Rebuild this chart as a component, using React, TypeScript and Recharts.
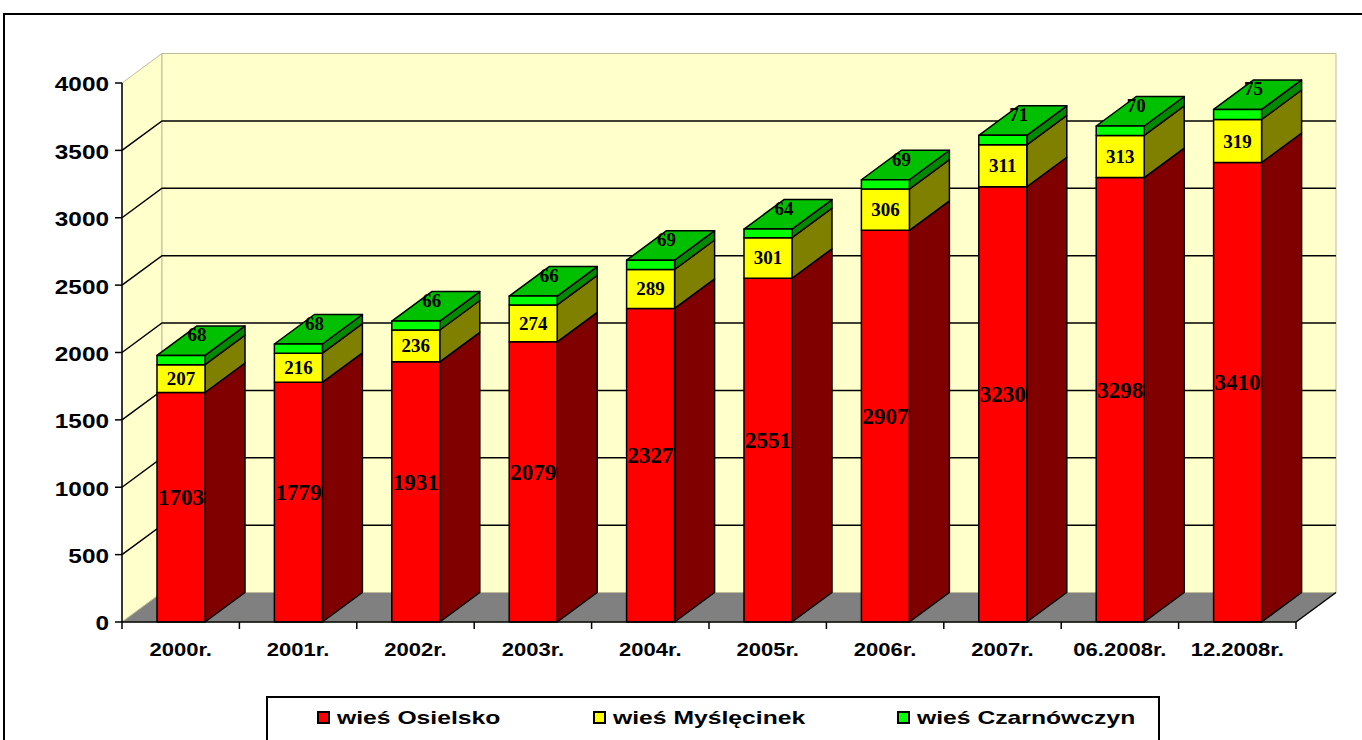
import React from 'react';
import { BarChart, Bar, XAxis, YAxis, CartesianGrid, LabelList } from 'recharts';

const CATEGORIES = ['2000r.', '2001r.', '2002r.', '2003r.', '2004r.', '2005r.', '2006r.', '2007r.', '06.2008r.', '12.2008r.'];
const OSIELSKO = [1703, 1779, 1931, 2079, 2327, 2551, 2907, 3230, 3298, 3410];
const MYSLECINEK = [207, 216, 236, 274, 289, 301, 306, 311, 313, 319];
const CZARNOWCZYN = [68, 68, 66, 66, 69, 64, 69, 71, 70, 75];
const Y_TICKS = [0, 500, 1000, 1500, 2000, 2500, 3000, 3500, 4000];

const SERIES = [
  { key: 'osielsko', name: 'wieś Osielsko', front: '#FF0000', side: '#800000' },
  { key: 'myslecinek', name: 'wieś Myślęcinek', front: '#FFFF00', side: '#808000' },
  { key: 'czarnowczyn', name: 'wieś Czarnówczyn', front: '#00FF00', side: '#008A00', top: '#00C000' },
];

const data = CATEGORIES.map((name, i) => ({
  name,
  osielsko: OSIELSKO[i],
  myslecinek: MYSLECINEK[i],
  czarnowczyn: CZARNOWCZYN[i],
}));

// layout
const W = 1362;
const H = 740;
const PLOT_LEFT = 122;
const PLOT_RIGHT = 1296;
const PLOT_TOP = 83;
const PLOT_BOTTOM = 622;
const DX = 40;
const DY = -29.5;
const BAND = (PLOT_RIGHT - PLOT_LEFT) / CATEGORIES.length;
const SANS = '"Liberation Sans", Arial, sans-serif';
const SERIF = '"Liberation Serif", "Times New Roman", serif';

function Bar3D(props: any) {
  const { x, y, width, height, fill, side, top } = props;
  if (width == null || height == null || isNaN(y)) return null;
  const r = x + width;
  const b = y + height;
  return (
    <g stroke="#000" strokeWidth={1.5} strokeLinejoin="round">
      <polygon points={`${r},${y} ${r + DX},${y + DY} ${r + DX},${b + DY} ${r},${b}`} fill={side} />
      {top && <polygon points={`${x},${y} ${x + DX},${y + DY} ${r + DX},${y + DY} ${r},${y}`} fill={top} />}
      <rect x={x} y={y} width={width} height={height} fill={fill} />
    </g>
  );
}

function box(p: any) {
  const v = p.viewBox && p.viewBox.width != null ? p.viewBox : p;
  return { x: Number(v.x), y: Number(v.y), w: Number(v.width), h: Number(v.height) };
}

const redLabel = (p: any) => {
  const { x, y, w, h } = box(p);
  return (
    <text x={x + w / 2} y={y + h / 2 - 9.5} textAnchor="middle" dominantBaseline="central"
      fontFamily={SERIF} fontWeight="bold" fontSize={23} fill="#000">{p.value}</text>
  );
};

const yellowLabel = (p: any) => {
  const { x, y, w, h } = box(p);
  return (
    <text x={x + w / 2} y={y + h / 2} textAnchor="middle" dominantBaseline="central"
      fontFamily={SERIF} fontWeight="bold" fontSize={19} fill="#000">{p.value}</text>
  );
};

const greenLabel = (p: any) => {
  const { x, y, w } = box(p);
  return (
    <text x={x + w / 2 + DX / 2 - 4} y={y + DY / 2 - 6} textAnchor="middle" dominantBaseline="central"
      fontFamily={SERIF} fontWeight="bold" fontSize={19} fill="#000">{p.value}</text>
  );
};

const gridLine = (p: any) => {
  const { x1, x2, y1 } = p;
  if (Math.abs(y1 - PLOT_BOTTOM) < 1 || Math.abs(y1 - PLOT_TOP) < 1) return <g key={p.key} />;
  return (
    <path key={p.key} d={`M${x1},${y1} L${x1 + DX},${y1 + DY} L${x2 + DX},${y1 + DY}`}
      stroke="#000" strokeWidth={1.5} fill="none" />
  );
};

const YTick = (p: any) => (
  <text transform={`translate(${p.x},${p.y + 1}) scale(1.16,1)`} textAnchor="end" dominantBaseline="central"
    fontFamily={SANS} fontWeight="bold" fontSize={21} fill="#000">{p.payload.value}</text>
);

const XTick = (p: any) => {
  const left = p.x - BAND / 2;
  const right = p.x + BAND / 2;
  return (
    <g>
      <line x1={left} x2={left} y1={PLOT_BOTTOM} y2={PLOT_BOTTOM + 7} stroke="#000" strokeWidth={1.5} />
      {p.index === CATEGORIES.length - 1 && (
        <line x1={right} x2={right} y1={PLOT_BOTTOM} y2={PLOT_BOTTOM + 7} stroke="#000" strokeWidth={1.5} />
      )}
      <text transform={`translate(${p.x},${PLOT_BOTTOM + 27}) scale(1.16,1)`} textAnchor="middle" dominantBaseline="central"
        fontFamily={SANS} fontWeight="bold" fontSize={19} fill="#000">{p.payload.value}</text>
    </g>
  );
};

const LEGEND_LEFTS = [317, 593, 897];

export default function App() {
  const bx = PLOT_LEFT + DX;
  const by = PLOT_TOP + DY;
  const fx = PLOT_RIGHT + DX;
  const fy = PLOT_BOTTOM + DY;
  return (
    <div style={{ position: 'fixed', left: 0, top: 0, width: W, height: H, overflow: 'hidden', background: '#fff' }}>
      <div style={{ position: 'absolute', left: 3, top: 13, width: 1420, height: 800, border: '2px solid #000', boxSizing: 'border-box' }} />
      <svg width={W} height={H} style={{ position: 'absolute', left: 0, top: 0 }}>
        <polygon points={`${PLOT_LEFT},${PLOT_TOP} ${bx},${by} ${bx},${fy} ${PLOT_LEFT},${PLOT_BOTTOM}`}
          fill="#FFFFCC" stroke="#BDBD98" strokeWidth={1} />
        <polygon points={`${bx},${by} ${fx},${by} ${fx},${fy} ${bx},${fy}`} fill="#FFFFCC" stroke="#BDBD98" strokeWidth={1} />
        <polygon points={`${PLOT_LEFT},${PLOT_BOTTOM} ${bx},${fy} ${fx},${fy} ${PLOT_RIGHT},${PLOT_BOTTOM}`}
          fill="#808080" stroke="#BDBD98" strokeWidth={1} />
        <line x1={PLOT_RIGHT} y1={PLOT_BOTTOM} x2={fx} y2={fy} stroke="#000" strokeWidth={1.5} />
      </svg>
      <div style={{ position: 'absolute', left: 0, top: 0 }}>
        <BarChart width={W} height={H} data={data}
          margin={{ top: PLOT_TOP, right: W - PLOT_RIGHT, bottom: H - PLOT_BOTTOM - 40, left: PLOT_LEFT - 60 }}>
          <CartesianGrid horizontal={gridLine} vertical={false} />
          <XAxis dataKey="name" height={40} interval={0} axisLine={{ stroke: '#000', strokeWidth: 1.5 }}
            tickLine={false} tick={XTick} />
          <YAxis width={60} domain={[0, 4000]} ticks={Y_TICKS} interval={0}
            axisLine={{ stroke: '#000', strokeWidth: 1.5 }} tickLine={{ stroke: '#000', strokeWidth: 1.5 }}
            tickSize={7} tickMargin={6} tick={YTick} />
          {SERIES.map((s, i) => (
            <Bar key={s.key} dataKey={s.key} name={s.name} stackId="a" fill={s.front} barSize={48}
              isAnimationActive={false}
              shape={(p: any) => <Bar3D {...p} side={s.side} top={s.top} />}>
              <LabelList dataKey={s.key} content={i === 0 ? redLabel : i === 1 ? yellowLabel : greenLabel} />
            </Bar>
          ))}
        </BarChart>
      </div>
      <div style={{ position: 'absolute', left: 266, top: 696, width: 894, height: 80, border: '2px solid #000', boxSizing: 'border-box', background: '#fff' }} />
      {SERIES.map((s, i) => (
        <div key={s.key}>
          <div style={{ position: 'absolute', left: LEGEND_LEFTS[i], top: 711, width: 13, height: 13, background: s.front, border: '2px solid #000', boxSizing: 'border-box' }} />
          <div style={{ position: 'absolute', left: LEGEND_LEFTS[i] + 20, top: 706, height: 24, lineHeight: '24px', fontFamily: SANS, fontWeight: 'bold', fontSize: 19, whiteSpace: 'nowrap', transform: 'scaleX(1.3)', transformOrigin: 'left center' }}>
            {s.name}
          </div>
        </div>
      ))}
    </div>
  );
}
